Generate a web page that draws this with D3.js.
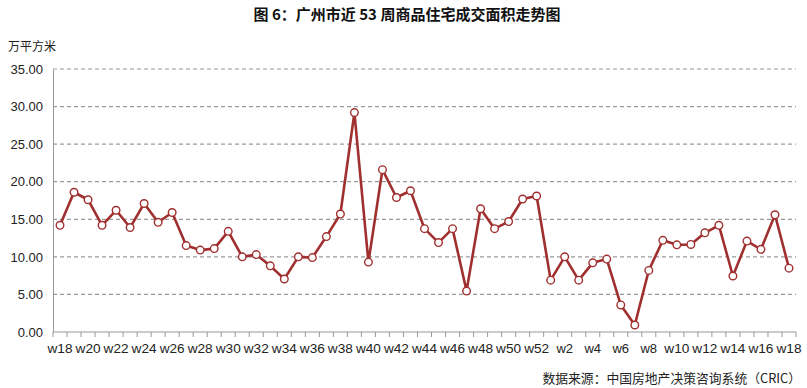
<!DOCTYPE html>
<html>
<head>
<meta charset="utf-8">
<script src="https://cdn.jsdelivr.net/npm/d3@7"></script>
<style>
  body { margin: 0; background: #fff; }
  #chart { width: 807px; height: 388px; }
  .axis text { font-family: "Liberation Sans", Arial, sans-serif; font-size: 13px; fill: #222; }
</style>
</head>
<body>
<div id="chart"></div>
<script>
// week labels: w18..w52 then w1..w18 (w18 shows up twice, so the scale works on indices)
const weeks = [];
for (let i = 18; i <= 52; i++) weeks.push('w' + i);
for (let i = 1; i <= 18; i++) weeks.push('w' + i);

// 成交面积 (万平方米)
const area = [
  14.2, 18.6, 17.6, 14.2, 16.2, 13.9, 17.1, 14.6, 15.9, 11.5,
  10.9, 11.1, 13.4, 10.0, 10.3, 8.8, 7.05, 10.0, 9.9, 12.7,
  15.7, 29.2, 9.3, 21.6, 17.9, 18.8, 13.75, 11.9, 13.75, 5.45,
  16.4, 13.75, 14.7, 17.7, 18.1,
  6.9, 10.0, 6.9, 9.2, 9.7, 3.6, 0.93, 8.2, 12.2, 11.6,
  11.65, 13.2, 14.2, 7.45, 12.1, 11.0, 15.6, 8.5
];
const yTicks = [0, 5, 10, 15, 20, 25, 30, 35];

const width = 807, height = 388;
const margin = { top: 69, right: 11, bottom: 55, left: 53 };
const lineColor = '#a0302f';

const svg = d3.select('#chart').append('svg')
  .attr('width', width).attr('height', height);

// title + unit
svg.append('text')
  .attr('x', 407).attr('y', 20)
  .attr('text-anchor', 'middle')
  .style('font-family', '"Noto Sans CJK SC", sans-serif')
  .style('font-weight', 'bold')
  .style('font-size', '15px')
  .style('fill', '#111')
  .text('图 6：广州市近 53 周商品住宅成交面积走势图');

svg.append('text')
  .attr('x', 8).attr('y', 51)
  .style('font-family', '"Noto Sans CJK SC", sans-serif')
  .style('font-size', '12px')
  .style('fill', '#222')
  .text('万平方米');

const plotW = width - margin.left - margin.right;
const plotH = height - margin.top - margin.bottom - 1;

const idx = d3.range(weeks.length);
const x = d3.scaleBand().domain(idx).range([0, plotW]).padding(0);
const y = d3.scaleLinear().domain([0, 35]).range([plotH, 0]);
const cx = i => x(i) + x.bandwidth() / 2;

const g = svg.append('g').attr('transform', `translate(${margin.left},${margin.top})`);

// dashed gridlines
g.selectAll('.grid').data(yTicks.filter(d => d > 0)).enter().append('line')
  .attr('x1', 0).attr('x2', plotW)
  .attr('y1', d => y(d)).attr('y2', d => y(d))
  .attr('stroke', '#9a9a9a').attr('stroke-width', 1.2)
  .attr('stroke-dasharray', '4,3');

// y axis
const gy = g.append('g').attr('class', 'axis')
  .call(d3.axisLeft(y).tickValues(yTicks).tickFormat(d3.format('.2f')).tickSize(0).tickPadding(10));
gy.select('.domain').attr('stroke', '#999');

// x axis: ticks on category boundaries, labels on every second week
const gx = g.append('g').attr('class', 'axis').attr('transform', `translate(0,${plotH})`);
gx.append('line').attr('x1', 0).attr('x2', plotW).attr('stroke', '#999');
gx.selectAll('.tk').data(d3.range(weeks.length + 1)).enter().append('line')
  .attr('x1', i => i * x.bandwidth()).attr('x2', i => i * x.bandwidth())
  .attr('y1', 0).attr('y2', 5).attr('stroke', '#999');
gx.selectAll('.lbl').data(idx.filter(i => i % 2 === 0)).enter().append('text')
  .attr('x', i => cx(i))
  .attr('y', 21)
  .attr('text-anchor', 'middle')
  .attr('textLength', i => weeks[i].length > 2 ? 25 : null)
  .attr('lengthAdjust', 'spacingAndGlyphs')
  .text(i => weeks[i]);

// line + markers
const line = d3.line()
  .x((d, i) => cx(i))
  .y(d => y(d));

g.append('path').datum(area)
  .attr('d', line)
  .attr('fill', 'none')
  .attr('stroke', lineColor)
  .attr('stroke-width', 2.6)
  .attr('stroke-linejoin', 'round');

g.selectAll('.pt').data(area).enter().append('circle')
  .attr('cx', (d, i) => cx(i))
  .attr('cy', d => y(d))
  .attr('r', 3.8)
  .attr('fill', '#fff')
  .attr('stroke', lineColor)
  .attr('stroke-width', 1.4);

// source
svg.append('text')
  .attr('x', 801).attr('y', 383)
  .attr('text-anchor', 'end')
  .style('font-family', '"Noto Sans CJK SC", sans-serif')
  .style('font-size', '12.8px')
  .style('fill', '#222')
  .text('数据来源：中国房地产决策咨询系统（CRIC）');
</script>
</body>
</html>
